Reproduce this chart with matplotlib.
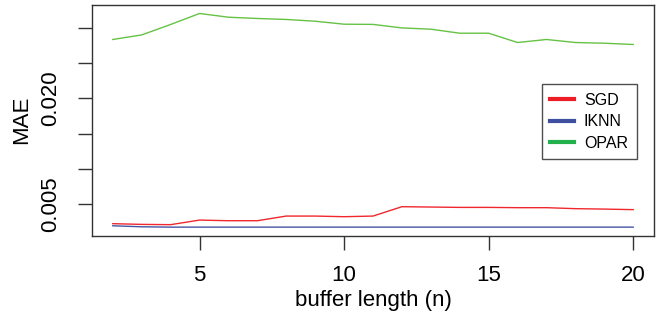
import matplotlib
matplotlib.use("Agg")
import matplotlib.pyplot as plt
from matplotlib.lines import Line2D
from matplotlib.ticker import FixedLocator, FuncFormatter

plt.rcParams['font.family'] = ['Liberation Sans', 'DejaVu Sans']

# buffer length (n)
n = list(range(2, 21))

# MAE per method
sgd = [0.00221, 0.00211, 0.00207, 0.00272, 0.00263, 0.00263, 0.00329, 0.00329,
       0.00320, 0.00329, 0.00462, 0.00457, 0.00452, 0.00452, 0.00448, 0.00448,
       0.00434, 0.00428, 0.00420]
iknn = [0.00191, 0.00177, 0.00172, 0.00172, 0.00172, 0.00172, 0.00172, 0.00172,
        0.00172, 0.00172, 0.00172, 0.00172, 0.00172, 0.00172, 0.00172, 0.00172,
        0.00172, 0.00172, 0.00172]
opar = [0.02834, 0.02899, 0.03047, 0.03203, 0.03150, 0.03132, 0.03118, 0.03093,
        0.03051, 0.03048, 0.02998, 0.02980, 0.02923, 0.02923, 0.02791, 0.02834,
        0.02791, 0.02781, 0.02763]

labels = ["SGD", "IKNN", "OPAR"]
line_colors = ["#f0282d", "#4455a5", "#66c244"]
legend_colors = ["#ee1c25", "#3f4fa0", "#22b14c"]

yticks = [0.005, 0.010, 0.015, 0.020, 0.025, 0.030]
shown_ylabels = {0.005: "0.005", 0.020: "0.020"}

fig = plt.figure(figsize=(6.58, 3.23), dpi=100)
ax = fig.add_axes([0.1398, 0.2693, 0.8541, 0.7167])

for vals, c in zip([sgd, iknn, opar], line_colors):
    ax.plot(n, vals, color=c, lw=1.0)

ax.set_xlim(1.28, 20.72)
ax.set_ylim(0.00046, 0.0333)
ax.set_xticks([5, 10, 15, 20])
ax.yaxis.set_major_locator(FixedLocator(yticks))
ax.yaxis.set_major_formatter(FuncFormatter(
    lambda v, p: shown_ylabels.get(round(v, 3), "")))

for s in ax.spines.values():
    s.set_color("#333333")
    s.set_linewidth(1.0)
ax.tick_params(axis="both", length=10, width=1.0, color="#333333",
               labelsize=16, pad=12)
ax.tick_params(axis="x", pad=11)
for lab in ax.get_yticklabels():
    lab.set_rotation(90)
    lab.set_va("center")

ax.set_xlabel("buffer length (n)", fontsize=16, labelpad=3)
ax.set_ylabel("MAE", fontsize=16, labelpad=6)

handles = [Line2D([], [], color=c, lw=3) for c in legend_colors]
leg = fig.legend(handles, labels, loc="upper left",
                 bbox_to_anchor=(0.823, 0.740), borderaxespad=0,
                 fontsize=11.5, frameon=True, fancybox=False,
                 handlelength=1.5, handletextpad=0.6, labelspacing=0.4,
                 borderpad=0.55)
leg.get_frame().set_edgecolor("#222222")
leg.get_frame().set_linewidth(1.0)

fig.savefig("out.png", dpi=100)
